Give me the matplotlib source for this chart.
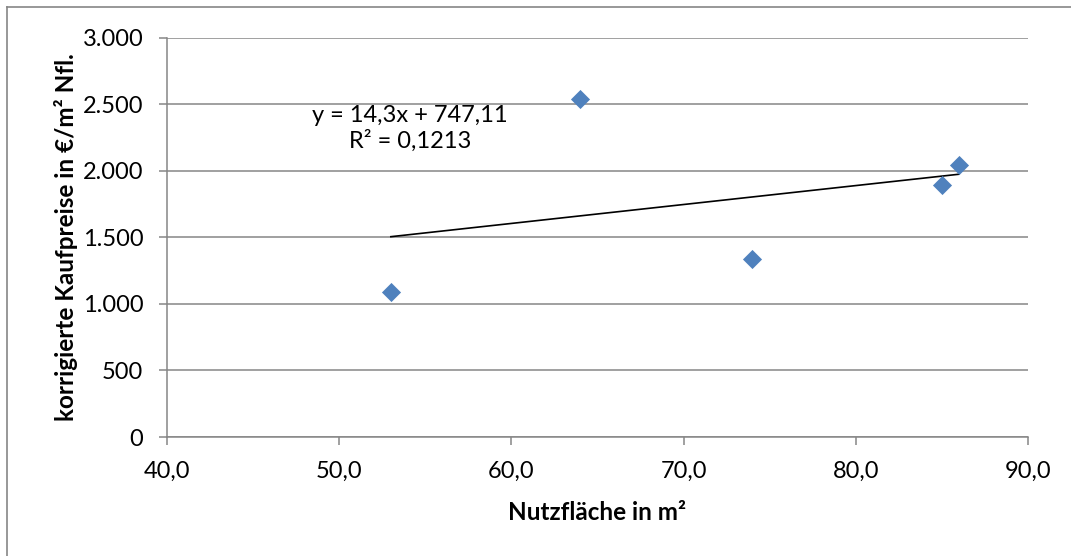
import numpy as np
import matplotlib
matplotlib.use("Agg")
import matplotlib.pyplot as plt
from matplotlib.ticker import FuncFormatter, MultipleLocator
from matplotlib.lines import Line2D

# Data
nutzflaeche = [53.0, 64.0, 74.0, 85.0, 86.0]
kaufpreise = [1090, 2540, 1335, 1895, 2040]
trend_label = "y = 14,3x + 747,11\nR² = 0,1213"

plt.rcParams.update({
    'font.family': ['Lato', 'DejaVu Sans'],
    'font.size': 17,
})

grey = '#868686'

fig = plt.figure(figsize=(10.71, 5.56), dpi=100)
ax = fig.add_axes([167 / 1071, 119 / 556, 861 / 1071, 399.5 / 556])

ax.scatter(nutzflaeche, kaufpreise, marker='D', s=95, color='#4F81BD',
           linewidths=0, zorder=3)

# linear trendline
slope, intercept = np.polyfit(nutzflaeche, kaufpreise, 1)
xs = np.array([min(nutzflaeche), max(nutzflaeche)])
ax.plot(xs, slope * xs + intercept, color='black', linewidth=1.2, zorder=2)

ax.text(0.282, 0.772, trend_label, transform=ax.transAxes, ha='center',
        va='center', multialignment='center', fontsize=17, linespacing=1.2)

ax.set_xlim(40, 90)
ax.set_ylim(0, 3000)
ax.xaxis.set_major_locator(MultipleLocator(10))
ax.yaxis.set_major_locator(MultipleLocator(500))
ax.xaxis.set_major_formatter(FuncFormatter(lambda v, p: f"{v:.1f}".replace('.', ',')))
ax.yaxis.set_major_formatter(FuncFormatter(lambda v, p: f"{int(v):,}".replace(',', '.')))

ax.grid(axis='y', color=grey, linewidth=1.1, zorder=0)
ax.set_axisbelow(True)
for side in ['top', 'right']:
    ax.spines[side].set_visible(False)
for side in ['left', 'bottom']:
    ax.spines[side].set_color(grey)
    ax.spines[side].set_linewidth(1.1)
ax.tick_params(colors=grey, labelcolor='black', length=6, width=1.1,
               labelsize=17, pad=11)

ax.set_xlabel("Nutzfläche in m²", fontweight='bold', fontsize=17.5, labelpad=14)
ax.set_ylabel("korrigierte Kaufpreise in €/m² Nfl.", fontweight='bold',
              fontsize=17.5, labelpad=3)

# chart area border (left and top edges visible)
fig.add_artist(Line2D([7 / 1071, 7 / 1071], [0, 1 - 7 / 556],
                      transform=fig.transFigure, color=grey, linewidth=1.2))
fig.add_artist(Line2D([7 / 1071, 1], [1 - 7 / 556, 1 - 7 / 556],
                      transform=fig.transFigure, color=grey, linewidth=1.2))

fig.savefig("out.png", dpi=100)
